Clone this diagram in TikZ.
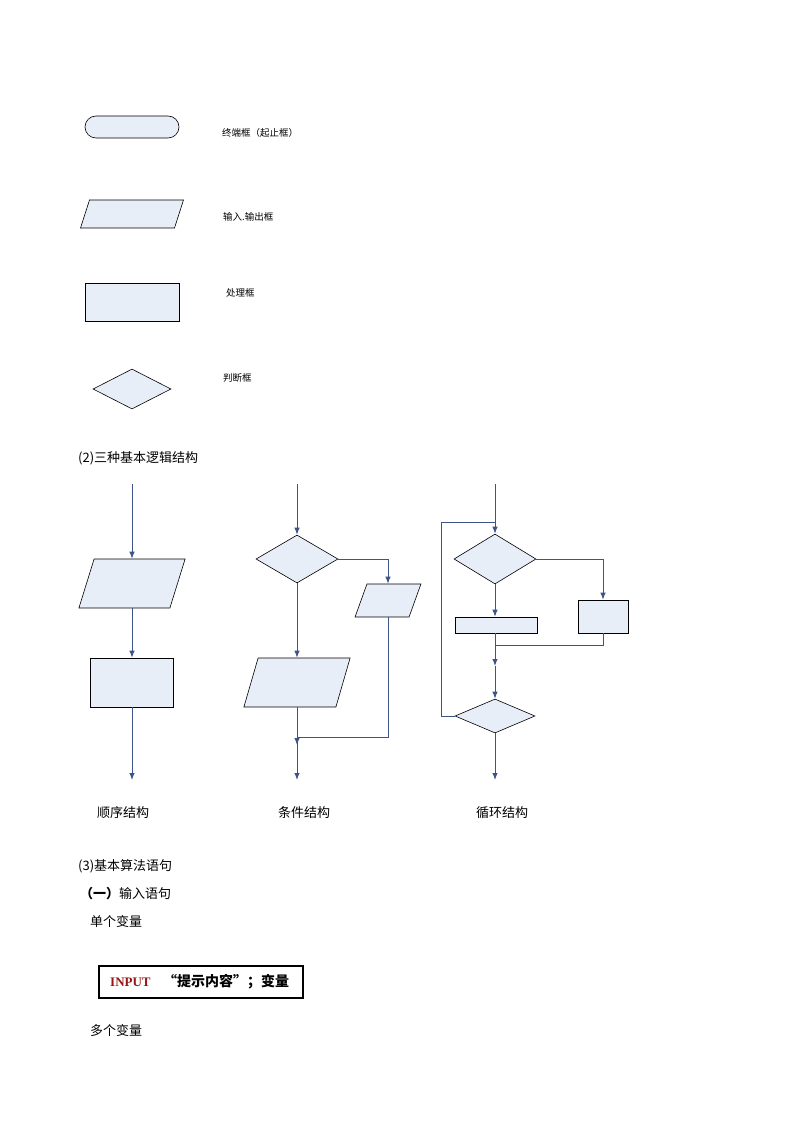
\documentclass[tikz,border=0pt]{standalone}
\usepackage{fontspec}
\setmainfont{Noto Sans CJK SC}
\newfontfamily\inputfont{Liberation Serif}
\usetikzlibrary{shapes.geometric,arrows.meta}
\definecolor{fillb}{RGB}{232,238,248}
\definecolor{lineb}{RGB}{60,85,135}
\definecolor{inred}{RGB}{150,20,20}
\tikzset{
  sym/.style={draw, fill=fillb, line width=0.6pt, inner sep=0pt},
  para/.style={sym, xslant=#1},
  dia/.style={sym, diamond, aspect=2},
  flow/.style={lineb, line width=1pt},
  arr/.style={flow, -{Latex[length=7pt,width=5.5pt]}},
  lab/.style={anchor=west, inner sep=0pt, font=\fontsize{9.5}{9.5}\selectfont},
  txt/.style={anchor=west, inner sep=0pt, font=\fontsize{13}{13}\selectfont}
}
\begin{document}
\begin{tikzpicture}[x=1pt, y=-1pt]
\useasboundingbox (0,0) rectangle (794,1123);

% legend of symbols
\node[sym, rounded corners=11pt, minimum width=94pt, minimum height=22pt] (term) at (132,127) {};
\node[lab] (termlab) at (222,133) {终端框（起止框）};
\node[para=0.32, minimum width=94pt, minimum height=28pt] (io) at (132,214) {};
\node[lab] (iolab) at (223,217) {输入.输出框};
\node[sym, minimum width=94pt, minimum height=38pt] (proc) at (132,302) {};
\node[lab] (proclab) at (226,293) {处理框};
\node[dia, minimum width=78pt, minimum height=40pt] (judge) at (132,389) {};
\node[lab] (judgelab) at (223,378) {判断框};

\node[txt] (title2) at (78,458) {(2)三种基本逻辑结构};

% sequence
\coordinate (s0) at (132,484);
\node[para=0.31, minimum width=91pt, minimum height=49pt] (sin) at (132,583.5) {};
\node[sym, minimum width=83pt, minimum height=49pt] (sproc) at (131.5,682.5) {};
\coordinate (s1) at (132,780);
\draw[arr] (s0) -- (sin.north -| s0);
\draw[arr] (sin.south -| s0) -- (sproc.north -| s0);
\draw[arr] (sproc.south -| s0) -- (s1);
\node[txt] (seqlab) at (97,813) {顺序结构};

% condition
\coordinate (c0) at (297,484);
\node[dia, minimum width=82pt, minimum height=48pt] (cdia) at (297,559) {};
\node[para=0.36, minimum width=54pt, minimum height=33pt] (cright) at (388,600.5) {};
\node[para=0.29, minimum width=92pt, minimum height=49pt] (cleft) at (297,682.5) {};
\coordinate (cturn) at (388,559);
\coordinate (cjoin) at (297,737);
\coordinate (c1) at (297,780);
\draw[arr] (c0) -- (cdia);
\draw[flow] (cdia.east) -- (cturn);
\draw[arr] (cturn) -- (cright.north -| cturn);
\draw[flow] (cright.south -| cturn) |- (cjoin);
\draw[arr] (cleft.south -| cdia) -- (0,745 -| cdia);
\draw[arr] (cdia.south) -- (cleft.north -| cdia);
\draw[arr] (cjoin) -- (c1);
\node[txt] (condlab) at (278,813) {条件结构};

% loop
\coordinate (l0) at (495,484);
\coordinate (lback) at (441,522);
\node[dia, minimum width=82pt, minimum height=50pt] (ldia) at (495,559) {};
\node[sym, minimum width=82pt, minimum height=16pt] (lbar) at (496,625) {};
\node[sym, minimum width=50pt, minimum height=33pt] (lbox) at (603,616.5) {};
\node[dia, minimum width=80pt, minimum height=34pt] (ltest) at (495,716) {};
\coordinate (lturn) at (603,559);
\coordinate (ljoin) at (495,645);
\coordinate (lmid) at (495,666);
\coordinate (l1) at (495,780);
\draw[arr] (l0) -- (ldia.north);
\draw[flow] (ltest.west) -| (lback) -- (lback -| l0);
\draw[arr] (ldia.south) -- (lbar.north -| ldia);
\draw[flow] (ldia.east) -- (lturn);
\draw[arr] (lturn) -- (lbox.north);
\draw[flow] (lbox.south) |- (ljoin);
\draw[flow] (lbar.south -| ldia) -- (ljoin);
\draw[arr] (ljoin) -- (lmid);
\draw[arr] (lmid) -- (ltest.north);
\draw[arr] (ltest.south) -- (l1);
\node[txt] (looplab) at (476,813) {循环结构};

% statements
\node[txt] (title3) at (78,866) {(3)基本算法语句};
\node[txt] (inp) at (80,894) {\textbf{（一）}输入语句};
\node[txt] (single) at (90,922) {单个变量};
\node[draw, line width=1.2pt, minimum width=204pt, minimum height=32pt] (inbox) at (201,982) {};
\node[anchor=west, inner sep=0pt, text=inred, font=\inputfont\bfseries\fontsize{13}{13}\selectfont] (kw) at (110,982) {INPUT};
\node[anchor=west, inner sep=0pt, font=\bfseries\fontsize{14}{14}\selectfont] (kwarg) at (163,982) {“提示内容”；变量};
\node[txt] (multi) at (90,1031) {多个变量};
\end{tikzpicture}
\end{document}
